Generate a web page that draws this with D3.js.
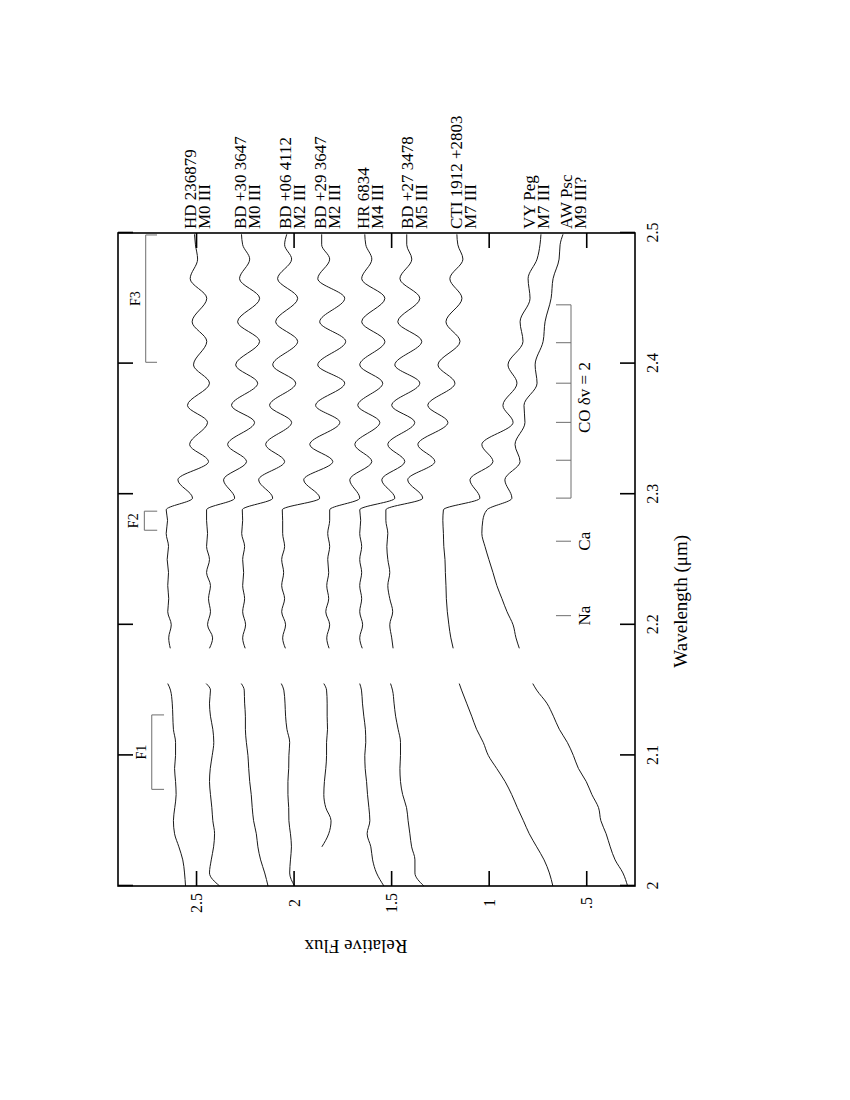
<!DOCTYPE html>
<html><head><meta charset="utf-8">
<script src="https://cdn.jsdelivr.net/npm/d3@7"></script>
<style>body{margin:0;background:#fff} svg{display:block}</style>
</head><body>
<svg id="c" width="850" height="1100"></svg>
<script>
// ---------- data ----------
const waveA = [2.00,2.01,2.02,2.03,2.04,2.05,2.06,2.07,2.08,2.09,2.10,2.11,2.12,2.13,2.14,2.15,2.155];
const waveB = [2.182,2.19,2.20,2.21,2.22,2.23,2.24,2.25,2.26,2.27,2.28,2.288,2.297,2.311,2.325,2.338,2.355,2.368,2.385,2.399,2.417,2.432,2.450,2.465,2.480,2.491,2.499];

const starNames = ["HD 236879","BD +30 3647","BD +06 4112","BD +29 3647","HR 6834","BD +27 3478","CTI 1912 +2803","VY Peg","AW Psc"];
const spTypes   = ["M0 III","M0 III","M2 III","M2 III","M4 III","M5 III","M7 III","M7 III","M9 III?"];
const labelFlux = [2.500,2.246,2.015,1.835,1.615,1.389,1.137,0.762,0.572];

const hdA   = [2.554,2.559,2.568,2.588,2.610,2.616,2.609,2.602,2.605,2.610,2.605,2.605,2.616,2.619,2.622,2.631,2.645];
const hdB   = [2.632,2.640,2.627,2.645,2.640,2.645,2.641,2.648,2.641,2.653,2.646,2.653,2.518,2.593,2.436,2.533,2.441,2.544,2.431,2.513,2.445,2.520,2.445,2.530,2.492,2.503,2.508];
const bd30A = [2.379,2.431,2.422,2.410,2.405,2.414,2.419,2.426,2.431,2.427,2.417,2.409,2.414,2.426,2.431,2.426,2.448];
const bd30B = [2.431,2.415,2.441,2.426,2.436,2.426,2.446,2.431,2.446,2.441,2.446,2.446,2.302,2.359,2.241,2.338,2.200,2.318,2.184,2.297,2.174,2.287,2.174,2.277,2.225,2.261,2.267];
const bd06A = [2.131,2.148,2.169,2.183,2.191,2.205,2.212,2.217,2.225,2.230,2.234,2.242,2.247,2.247,2.251,2.253,2.268];
const bd06B = [2.248,2.261,2.246,2.261,2.251,2.261,2.256,2.261,2.251,2.266,2.261,2.263,2.107,2.179,2.046,2.143,2.010,2.123,1.989,2.107,1.979,2.092,1.979,2.082,2.010,2.046,2.035];
const bd29A = [1.995,2.020,2.016,2.011,2.016,2.024,2.025,2.029,2.029,2.025,2.024,2.020,2.034,2.041,2.044,2.050,2.063];
const bd29B = [2.042,2.056,2.041,2.061,2.046,2.061,2.051,2.061,2.046,2.056,2.056,2.058,1.866,1.948,1.799,1.917,1.763,1.887,1.738,1.876,1.733,1.866,1.738,1.876,1.815,1.856,1.856];
const hrA   = [null,null,null,1.855,1.820,1.808,1.835,1.845,1.842,1.835,1.831,1.831,1.826,1.828,1.828,1.831,1.845];
const hrB   = [1.818,1.830,1.815,1.835,1.820,1.830,1.820,1.825,1.815,1.825,1.815,1.815,1.661,1.712,1.599,1.686,1.558,1.671,1.543,1.661,1.532,1.651,1.532,1.651,1.599,1.630,1.635];
const bd27A = [1.537,1.575,1.595,1.604,1.623,1.609,1.614,1.621,1.626,1.633,1.635,1.630,1.632,1.640,1.647,1.652,1.661];
const bd27B = [1.648,1.661,1.646,1.661,1.651,1.661,1.651,1.661,1.651,1.661,1.656,1.661,1.481,1.548,1.430,1.517,1.379,1.497,1.353,1.481,1.343,1.466,1.353,1.455,1.394,1.420,1.420];
const ctiA  = [1.332,1.378,1.378,1.395,1.404,1.413,1.421,1.441,1.452,1.455,1.452,1.452,1.464,1.477,1.485,1.493,1.503];
const ctiB  = [1.490,1.497,1.507,1.492,1.507,1.517,1.507,1.517,1.522,1.517,1.527,1.527,1.338,1.415,1.276,1.363,1.209,1.312,1.173,1.260,1.147,1.219,1.137,1.199,1.132,1.158,1.163];
const vyA   = [0.671,0.689,0.716,0.754,0.792,0.822,0.853,0.882,0.916,0.959,1.002,1.028,1.062,1.087,1.113,1.139,1.151];
const vyB   = [1.182,1.194,1.204,1.212,1.217,1.219,1.222,1.224,1.230,1.232,1.235,1.232,1.045,1.096,0.978,1.035,0.875,0.927,0.855,0.901,0.824,0.839,0.788,0.798,0.752,0.737,0.732];
const awA   = [0.288,0.312,0.352,0.377,0.398,0.425,0.437,0.471,0.500,0.540,0.566,0.597,0.638,0.668,0.702,0.754,0.774];
const awB   = [0.843,0.860,0.875,0.906,0.932,0.958,0.978,0.999,1.019,1.035,1.030,1.009,0.881,0.917,0.839,0.865,0.814,0.819,0.752,0.762,0.721,0.711,0.680,0.670,0.639,0.634,0.619];

const seriesA = [hdA,bd30A,bd06A,bd29A,hrA,bd27A,ctiA,vyA,awA];
const seriesB = [hdB,bd30B,bd06B,bd29B,hrB,bd27B,ctiB,vyB,awB];

const waveTicks = [2.0,2.1,2.2,2.3,2.4,2.5];
const waveTickLabels = ["2","2.1","2.2","2.3","2.4","2.5"];
const fluxTicks = [0.5,1.0,1.5,2.0,2.5];
const fluxTickLabels = [".5","1","1.5","2","2.5"];

// feature brackets (wavelength ranges) and their flux levels
const fNames  = ["F1","F2","F3"];
const fStart  = [2.074,2.2724,2.401];
const fEnd    = [2.131,2.2870,2.4985];
const fLevel  = [2.727,2.765,2.758];
const fTipEnd = [2.664,2.699,2.700];
const coHeads = [2.297,2.326,2.355,2.385,2.416,2.445];
const atomNames = ["Na","Ca"];
const atomWave  = [2.207,2.264];
const markLevel = 0.578, markTip = 0.655;

// ---------- drawing ----------
const W = 653, H = 517;
const FONT = "'Liberation Serif','Times New Roman',Times,serif";
const svg = d3.select("#c");
const g = svg.append("g").attr("transform","translate(118,886) rotate(-90)");

const x = d3.scaleLinear().domain([2.0,2.5]).range([0,W]);
const y = d3.scaleLinear().domain([0.25,2.9]).range([H,0]);

// spectra
const line = d3.line().defined(d => d[1] != null)
  .x(d => x(d[0])).y(d => y(d[1])).curve(d3.curveMonotoneX);
seriesA.forEach((s,i) => {
  g.append("path").attr("d", line(waveA.map((w,j)=>[w,s[j]])))
   .attr("fill","none").attr("stroke","#1a1a1a").attr("stroke-width",1);
  g.append("path").attr("d", line(waveB.map((w,j)=>[w,seriesB[i][j]])))
   .attr("fill","none").attr("stroke","#1a1a1a").attr("stroke-width",1);
});

// axes
function styleAxis(sel){
  sel.select(".domain").remove();
  sel.selectAll(".tick line").attr("stroke","#000").attr("stroke-width",1.6);
  sel.selectAll("text").attr("font-family",FONT).attr("fill","#000");
}
const axB = g.append("g").attr("transform",`translate(0,${H})`)
  .call(d3.axisBottom(x).tickValues(waveTicks).tickSize(-15)
        .tickFormat((d,i)=>waveTickLabels[i]));
styleAxis(axB);
axB.selectAll("text").attr("y",23).attr("dy",0).attr("font-size",16);

const axT = g.append("g")
  .call(d3.axisTop(x).tickValues(waveTicks).tickSize(-15).tickFormat(""));
styleAxis(axT);

const axL = g.append("g")
  .call(d3.axisLeft(y).tickValues(fluxTicks).tickSize(-15)
        .tickFormat((d,i)=>fluxTickLabels[i]));
styleAxis(axL);
axL.selectAll("text").attr("x",-17).attr("dy","0.35em")
   .attr("text-anchor","middle").attr("font-size",16);

const axR = g.append("g").attr("transform",`translate(${W},0)`)
  .call(d3.axisRight(y).tickValues(fluxTicks).tickSize(-15).tickFormat(""));
styleAxis(axR);

// frame
g.append("rect").attr("x",0).attr("y",0).attr("width",W).attr("height",H)
 .attr("fill","none").attr("stroke","#000").attr("stroke-width",1.6);

// axis titles
g.append("text").attr("x",x(2.218)).attr("y",H+52)
 .attr("text-anchor","middle").attr("font-family",FONT).attr("font-size",19)
 .text("Wavelength (μm)");
g.append("text").attr("transform",`translate(-54,${y(1.68)}) rotate(-90)`)
 .attr("text-anchor","middle").attr("font-family",FONT).attr("font-size",19)
 .text("Relative Flux");

// star labels
starNames.forEach((n,i)=>{
  const t = g.append("text").attr("font-family",FONT).attr("font-size",17);
  t.append("tspan").attr("x",W+4).attr("y",y(labelFlux[i])).text(n);
  t.append("tspan").attr("x",W+4).attr("y",y(labelFlux[i])+14).text(spTypes[i]);
});

// feature brackets
const grey = "#6e6e6e";
fNames.forEach((n,i)=>{
  g.append("path")
   .attr("d",`M${x(fStart[i])},${y(fTipEnd[i])}V${y(fLevel[i])}H${x(fEnd[i])}V${y(fTipEnd[i])}`)
   .attr("fill","none").attr("stroke",grey).attr("stroke-width",1);
  g.append("text").attr("x",x((fStart[i]+fEnd[i])/2)).attr("y",y(fLevel[i])-6)
   .attr("text-anchor","middle").attr("font-family",FONT).attr("font-size",14).text(n);
});

// CO bandhead bracket
g.append("path")
 .attr("d",`M${x(coHeads[0])},${y(markLevel)}H${x(coHeads[coHeads.length-1])}` +
   coHeads.map(c=>`M${x(c)},${y(markLevel)}V${y(markTip)}`).join(""))
 .attr("fill","none").attr("stroke",grey).attr("stroke-width",1);
g.append("text").attr("x",x(2.374)).attr("y",y(markLevel)+19)
 .attr("text-anchor","middle").attr("font-family",FONT).attr("font-size",17)
 .text("CO δv = 2");

// atomic line markers
atomNames.forEach((n,i)=>{
  g.append("path").attr("d",`M${x(atomWave[i])},${y(markLevel)}V${y(markTip)}`)
   .attr("stroke",grey).attr("stroke-width",1);
  g.append("text").attr("x",x(atomWave[i])).attr("y",y(markLevel)+19)
   .attr("text-anchor","middle").attr("font-family",FONT).attr("font-size",17).text(n);
});
</script>
</body></html>
